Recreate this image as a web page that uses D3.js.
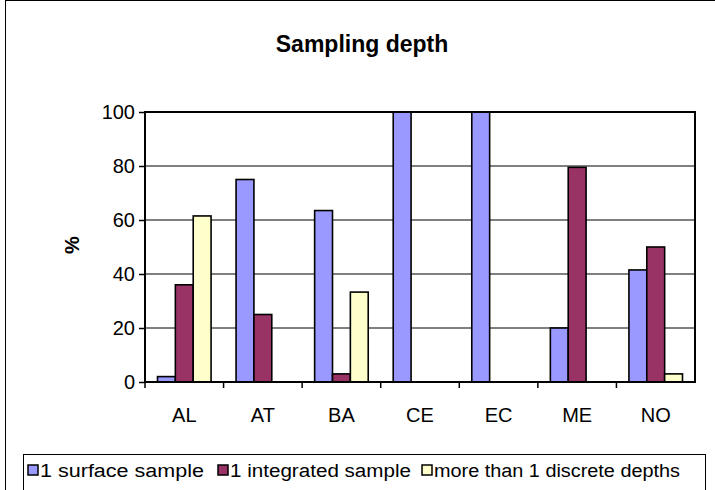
<!DOCTYPE html>
<html>
<head>
<meta charset="UTF-8">
<script src="https://cdn.jsdelivr.net/npm/d3@7"></script>
<style>body{margin:0;background:#fff;font-family:Arial,"Liberation Sans",sans-serif;}</style>
</head>
<body>
<div id="chart"></div>
<script>
var categories = ['AL','AT','BA','CE','EC','ME','NO'];
var seriesNames = ['1 surface sample','1 integrated sample','more than 1 discrete depths'];
var surface = [2, 75, 63.5, 100, 100, 20, 41.5];
var integrated = [36, 25, 3, 0, 0, 79.5, 50];
var discrete = [61.5, 0, 33.3, 0, 0, 0, 3];
var yTicks = [0, 20, 40, 60, 80, 100];
var colors = ['#9999ff', '#993366', '#ffffcc'];
var series = [surface, integrated, discrete];

var w = 715, h = 490;
var m = {left: 145, right: 20, top: 112, bottom: 108};
var svg = d3.select('#chart').append('svg').attr('width', w).attr('height', h);

svg.append('rect').attr('x', 5.5).attr('y', 0.5).attr('width', 720).attr('height', 520)
  .attr('fill', 'none').attr('stroke', '#000');

var x = d3.scaleBand().domain(categories).range([m.left, w - m.right]);
var xs = d3.scaleBand().domain(d3.range(3)).range([0, x.bandwidth()]).paddingOuter(0.7).paddingInner(0);
var y = d3.scaleLinear().domain([0, 100]).range([h - m.bottom, m.top]);

var g = svg.append('g');
g.selectAll('line.grid').data(yTicks.slice(1)).enter().append('line')
  .attr('x1', m.left).attr('x2', w - m.right)
  .attr('y1', function(d){ return y(d); }).attr('y2', function(d){ return y(d); })
  .attr('stroke', '#000');

series.forEach(function(s, si){
  g.selectAll('rect.s' + si).data(s).enter().append('rect')
    .attr('x', function(d, i){ return x(categories[i]) + xs(si); })
    .attr('y', function(d){ return y(d); })
    .attr('width', xs.bandwidth())
    .attr('height', function(d){ return y(0) - y(d); })
    .attr('fill', colors[si]).attr('stroke', '#000').attr('stroke-width', 1.6);
});

svg.append('rect').attr('x', m.left).attr('y', m.top)
  .attr('width', w - m.right - m.left).attr('height', y(0) - m.top)
  .attr('fill', 'none').attr('stroke', '#000').attr('stroke-width', 2);

var ya = svg.append('g').attr('transform', 'translate(' + m.left + ',0)')
  .call(d3.axisLeft(y).tickValues(yTicks).tickSize(6).tickPadding(4));
ya.select('.domain').remove();
ya.selectAll('line').attr('stroke-width', 1.5);
ya.selectAll('text').attr('font-size', 20).attr('font-family', 'Arial, Liberation Sans').attr('fill', '#000');

var xa = svg.append('g').attr('transform', 'translate(0,' + y(0) + ')')
  .call(d3.axisBottom(x).tickSize(0).tickPadding(26));
xa.select('.domain').remove();
xa.selectAll('text').attr('font-size', 20).attr('font-family', 'Arial, Liberation Sans').attr('fill', '#000');
xa.selectAll('line.sep').data(categories).enter().append('line')
  .attr('x1', function(d){ return x(d); }).attr('x2', function(d){ return x(d); })
  .attr('y1', 0).attr('y2', 6).attr('stroke', '#000').attr('stroke-width', 1.5);

svg.append('text').attr('x', 362).attr('y', 52).attr('text-anchor', 'middle')
  .attr('font-size', 23).attr('font-weight', 'bold').text('Sampling depth');
svg.append('text').attr('transform', 'translate(79,245) rotate(-90)').attr('text-anchor', 'middle')
  .attr('font-size', 20).attr('font-weight', 'bold').text('%');

var lg = svg.append('g');
lg.append('rect').attr('x', 23.5).attr('y', 454.5).attr('width', 682).attr('height', 40)
  .attr('fill', '#fff').attr('stroke', '#000');
var lx = [28, 218, 422];
var lw = [164, 181, 246];
seriesNames.forEach(function(n, i){
  lg.append('rect').attr('x', lx[i]).attr('y', 465).attr('width', 10).attr('height', 10)
    .attr('fill', colors[i]).attr('stroke', '#000').attr('stroke-width', 1.5);
  lg.append('text').attr('x', lx[i] + 12).attr('y', 477).attr('font-size', 18)
    .attr('textLength', lw[i]).attr('lengthAdjust', 'spacingAndGlyphs').text(n);
});
</script>
</body>
</html>
